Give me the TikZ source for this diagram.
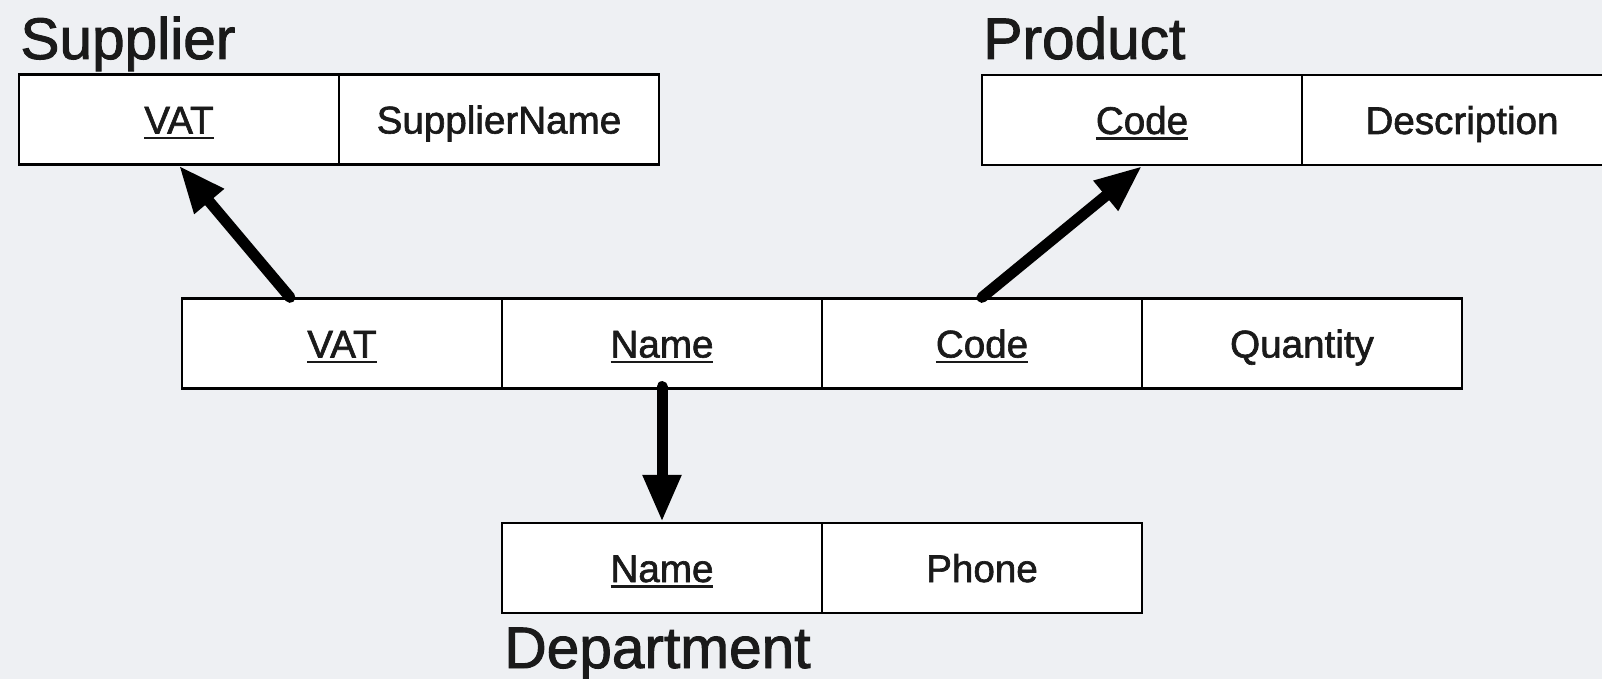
\documentclass[tikz,border=0pt]{standalone}
\usepackage{fontspec}
\setmainfont{Liberation Sans}
\newfontfamily\heavyfont{Liberation Sans}[FakeBold=1.6]
\usetikzlibrary{arrows.meta}

\definecolor{canvas}{RGB}{238,240,243}
\definecolor{ink}{RGB}{26,26,26}

% key attribute: text with a rule below the baseline
\newcommand{\keyattr}[1]{\setbox0\hbox{#1}\rlap{\rule[-2.8pt]{\wd0}{1.2pt}}\box0}

\tikzset{
  cell/.style={draw=black, fill=white, line width=1.1pt,
    minimum width=160pt, minimum height=45pt, inner sep=0pt,
    text height=14pt, text depth=0pt, text=ink,
    font=\heavyfont\fontsize{19.3}{21}\selectfont},
  title/.style={anchor=base west, inner sep=0pt, text=ink,
    font=\heavyfont\fontsize{29.3}{32}\selectfont},
  fk/.style={line width=5.5pt, line cap=round,
    -{Triangle[length=23.5pt,width=18pt]}}
}

\begin{document}
\begin{tikzpicture}[x=0.5pt, y=-0.5pt]
  \fill[canvas] (0,0) rectangle (1602,679);
  \useasboundingbox (0,0) rectangle (1602,679);

  % Supplier
  \node[title] (tsup) at (20,59) {Supplier};
  \node[cell] (s1) at (179,119.5) {\keyattr{VAT}};
  \node[cell] (s2) at (499,119.5) {SupplierName};

  % Product
  \node[title] (tprod) at (983,59) {Product};
  \node[cell] (p1) at (1142,120) {\keyattr{Code}};
  \node[cell] (p2) at (1462,120) {Description};

  % Supply relation
  \node[cell] (m1) at (342,343.5) {\keyattr{VAT}};
  \node[cell] (m2) at (662,343.5) {\keyattr{Name}};
  \node[cell] (m3) at (982,343.5) {\keyattr{Code}};
  \node[cell] (m4) at (1302,343.5) {Quantity};

  % Department
  \node[cell] (d1) at (662,568) {\keyattr{Name}};
  \node[cell] (d2) at (982,568) {Phone};
  \node[title] (tdep) at (504,668) {Department};

  % foreign keys
  \draw[fk] ([xshift=-26pt]m1.north) -- (s1.south);
  \draw[fk] (m3.north) -- (p1.south);
  \draw[fk] ([yshift=1.5pt]m2.south) -- (d1.north);
\end{tikzpicture}
\end{document}
